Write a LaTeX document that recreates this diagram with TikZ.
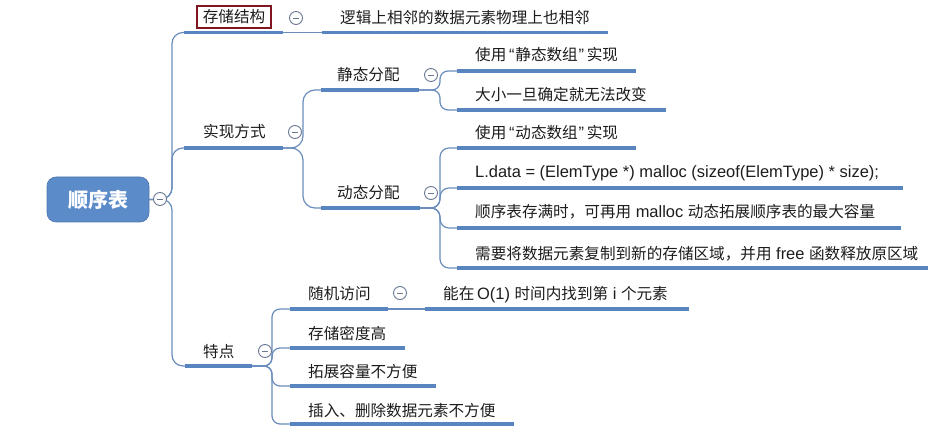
\documentclass[tikz,border=0pt]{standalone}
\usepackage{fontspec}
\setmainfont{Noto Sans CJK SC}
\newfontfamily\lat[Scale=1.055]{Liberation Sans}
\newcommand\myoq{\makebox[9pt][r]{\lat“\kern0.8pt}}
\newcommand\mycq{\makebox[9pt][l]{\kern0.8pt\lat”}}
\definecolor{ulc}{RGB}{88,132,192}
\definecolor{cnc}{RGB}{104,140,188}
\definecolor{rootfill}{RGB}{92,139,201}
\definecolor{circc}{RGB}{105,120,148}
\definecolor{boxr}{RGB}{128,22,32}
\definecolor{txt}{RGB}{28,28,28}
\begin{document}
\begin{tikzpicture}[x=1pt,y=-1pt,
  uline/.style={line width=3.6pt, draw=ulc},
  conn/.style={line width=1.2pt, draw=cnc},
  lbl/.style={anchor=base west, inner sep=0pt, font=\fontsize{15.6}{18}\selectfont, text=txt},
  rootbox/.style={rounded corners=9pt, fill=rootfill, draw=rootfill!85!black, line width=0.6pt,
     minimum width=102pt, minimum height=45pt, text=white, font=\fontsize{20}{24}\selectfont\bfseries},
  tagbox/.style={draw=boxr, line width=1.7pt, minimum width=74pt, minimum height=22pt, inner sep=0pt,
     font=\fontsize{15.6}{18}\selectfont, text=txt},
  minusc/.style={circle, draw=circc, fill=white, line width=0.9pt, minimum size=13pt, inner sep=0pt,
     path picture={\draw[circc, line width=0.9pt] ([xshift=-3pt]path picture bounding box.center) -- ([xshift=3pt]path picture bounding box.center);}}
]
\useasboundingbox (0,0) rectangle (931,438);

% ---------- coordinates ----------
\node[rootbox] (root) at (98,199.5) {顺序表};
\coordinate (rootF) at (172,199);

\coordinate (a1) at (184,32.5);  \coordinate (a2) at (283,32.5);
\coordinate (a3) at (322,32.5);  \coordinate (a4) at (608,32.5);

\coordinate (b1) at (184,148);   \coordinate (b2) at (283,148);  \coordinate (bF) at (303,148);
\coordinate (s1) at (321,90);    \coordinate (s2) at (419,90);   \coordinate (sF) at (440,90);
\coordinate (s11) at (457,71);   \coordinate (s12) at (636,71);
\coordinate (s21) at (457,110);  \coordinate (s22) at (666,110);
\coordinate (d1) at (321,208);   \coordinate (d2) at (420,208);  \coordinate (dF) at (440,208);
\coordinate (d11) at (457,148);  \coordinate (d12) at (636,148);
\coordinate (d21) at (457,188);  \coordinate (d22) at (903,188);
\coordinate (d31) at (457,228);  \coordinate (d32) at (901,228);
\coordinate (d41) at (457,268);  \coordinate (d42) at (928,268);

\coordinate (c1) at (185,366);   \coordinate (c2) at (252,366);  \coordinate (cF) at (272,366);
\coordinate (r1) at (290,309);   \coordinate (r2) at (388,309);
\coordinate (r3) at (425,309);   \coordinate (r4) at (689,309);
\coordinate (e1) at (290,348);   \coordinate (e2) at (405,348);
\coordinate (f1) at (290,386);   \coordinate (f2) at (436,386);
\coordinate (g1) at (290,424);   \coordinate (g2) at (514,424);

% ---------- connectors ----------
\draw[conn, rounded corners=11pt] (root.east) -- (rootF) |- (a1);
\draw[conn, rounded corners=11pt] (root.east) -- (rootF) |- (b1);
\draw[conn, rounded corners=11pt] (root.east) -- (rootF) |- (c1);
\draw[conn] (a2) -- (a3);
\draw[conn, rounded corners=12pt] (b2) -- (bF) |- (s1);
\draw[conn, rounded corners=12pt] (b2) -- (bF) |- (d1);
\draw[conn, rounded corners=8pt] (s2) -- (sF) |- (s11);
\draw[conn, rounded corners=8pt] (s2) -- (sF) |- (s21);
\draw[conn, rounded corners=9pt] (d2) -- (dF) |- (d11);
\draw[conn, rounded corners=9pt] (d2) -- (dF) |- (d21);
\draw[conn, rounded corners=9pt] (d2) -- (dF) |- (d31);
\draw[conn, rounded corners=9pt] (d2) -- (dF) |- (d41);
\draw[conn, rounded corners=8pt] (c2) -- (cF) |- (r1);
\draw[conn, rounded corners=8pt] (c2) -- (cF) |- (e1);
\draw[conn, rounded corners=8pt] (c2) -- (cF) |- (f1);
\draw[conn, rounded corners=8pt] (c2) -- (cF) |- (g1);
\draw[conn] (r2) -- (r3);

% ---------- underlines ----------
\draw[uline] (a1) -- (a2);  \draw[uline] (a3) -- (a4);
\draw[uline] (b1) -- (b2);
\draw[uline] (s1) -- (s2);  \draw[uline] (s11) -- (s12);  \draw[uline] (s21) -- (s22);
\draw[uline] (d1) -- (d2);  \draw[uline] (d11) -- (d12);  \draw[uline] (d21) -- (d22);
\draw[uline] (d31) -- (d32); \draw[uline] (d41) -- (d42);
\draw[uline] (c1) -- (c2);
\draw[uline] (r1) -- (r2);  \draw[uline] (r3) -- (r4);
\draw[uline] (e1) -- (e2);  \draw[uline] (f1) -- (f2);  \draw[uline] (g1) -- (g2);

% ---------- collapse buttons ----------
\node[minusc] (rootM) at (160,199) {};
\node[minusc] (aM) at (296,18) {};
\node[minusc] (bM) at (295,132) {};
\node[minusc] (sM) at (431,75) {};
\node[minusc] (dM) at (431,193) {};
\node[minusc] (cM) at (265,351) {};
\node[minusc] (rM) at (400,293) {};

% ---------- labels ----------
\node[tagbox] (aT) at (234,17) {存储结构};
\node[lbl] (aC) at (340,24) {逻辑上相邻的数据元素物理上也相邻};
\node[lbl] (bT) at (203,138) {实现方式};
\node[lbl] (sT) at (337,81) {静态分配};
\node[lbl] (s1T) at (475,61) {使用\myoq 静态数组\mycq 实现};
\node[lbl] (s2T) at (475,101) {大小一旦确定就无法改变};
\node[lbl] (dT) at (337,199) {动态分配};
\node[lbl] (d1T) at (475,139) {使用\myoq 动态数组\mycq 实现};
\node[lbl] (d2T) at (475,178) {\lat L.data = (ElemType *) malloc (sizeof(ElemType) * size);};
\node[lbl] (d3T) at (475,218) {顺序表存满时，可再用{\lat\ malloc\ }动态拓展顺序表的最大容量};
\node[lbl] (d4T) at (475,259) {需要将数据元素复制到新的存储区域，并用{\lat\ free\ }函数释放原区域};
\node[lbl] (cT) at (203,357) {特点};
\node[lbl] (rT) at (308,299) {随机访问};
\node[lbl] (rC) at (443,299) {能在{\lat\,O(1)\ }时间内找到第{\lat\ i\ }个元素};
\node[lbl] (eT) at (308,339) {存储密度高};
\node[lbl] (fT) at (308,377) {拓展容量不方便};
\node[lbl] (gT) at (308,416) {插入、删除数据元素不方便};
\end{tikzpicture}
\end{document}
